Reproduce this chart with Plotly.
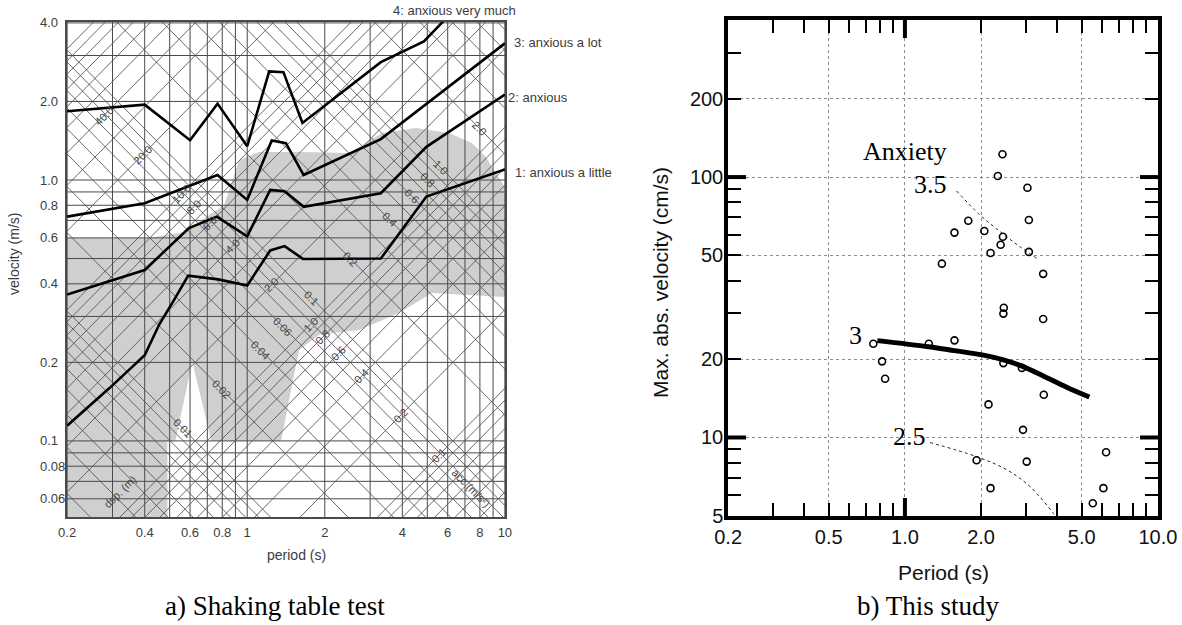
import math
import plotly.graph_objects as go

W, H = 1182, 625
OX, OY = 0, 0
def px(x): return (x - OX) / W
def py(y): return 1 - (y - OY) / H
LG = math.log10

# ---------------- Panel (a): shaking table test ----------------
# sensation curves: period (s) / velocity (m/s)
C1_T = [0.2, 0.292, 0.4, 0.456, 0.521, 0.59, 0.772, 1.0, 1.228, 1.397, 1.648, 3.30, 4.96, 10.0]
C1_V = [0.1144, 0.1594, 0.213, 0.280, 0.348, 0.430, 0.416, 0.394, 0.537, 0.558, 0.498, 0.50, 0.864, 1.098]
C2_T = [0.2, 0.4, 0.594, 0.762, 1.0, 1.228, 1.397, 1.656, 3.30, 4.96, 10.0]
C2_V = [0.364, 0.452, 0.654, 0.724, 0.608, 0.916, 0.906, 0.789, 0.89, 1.34, 2.124]
C3_T = [0.2, 0.4, 0.767, 1.0, 1.245, 1.413, 1.656, 3.30, 10.0]
C3_V = [0.724, 0.815, 1.045, 0.839, 1.418, 1.384, 1.045, 1.434, 3.34]
C4_T = [0.2, 0.4, 0.6, 0.767, 1.0, 1.217, 1.382, 1.638, 3.30, 4.85, 5.8]
C4_V = [1.834, 1.945, 1.421, 1.962, 1.348, 2.607, 2.59, 1.654, 2.83, 3.40, 4.08]
CURVE_LABELS = ["1: anxious a little", "2: anxious", "3: anxious a lot", "4: anxious very much"]

# shaded background region (period, velocity)
GRAY_T = [0.2, 0.417, 0.570, 0.814, 0.931, 1.113, 1.59, 2.485, 3.34, 4.52, 6.07, 7.45, 8.44, 10.0,
          10.0, 5.21, 3.88, 2.72, 1.90, 1.59, 1.48, 1.354, 0.725, 0.612, 0.526, 0.49, 0.49, 0.2]
GRAY_V = [0.60, 0.60, 0.632, 0.802, 1.193, 1.28, 1.28, 1.27, 1.514, 1.582, 1.514, 1.386, 1.225, 0.94,
          0.356, 0.369, 0.309, 0.266, 0.255, 0.223, 0.157, 0.10, 0.10, 0.201, 0.10, 0.10, 0.05, 0.05]

# tripartite grid
GRID_T = [0.2, 0.3, 0.4, 0.5, 0.6, 0.7, 0.8, 0.9, 1, 2, 3, 4, 5, 6, 7, 8, 9, 10]
GRID_V = [0.05, 0.06, 0.07, 0.08, 0.09, 0.1, 0.2, 0.3, 0.4, 0.5, 0.6, 0.7, 0.8, 0.9, 1, 2, 3, 4]
MULT = [1, 2, 3, 4, 5, 6, 7, 8, 9]
ACC_DECADES = [0.01, 0.1, 1, 10, 100]
DSP_DECADES = [0.001, 0.01, 0.1, 1]
ACC_LABELS = [40.0, 20.0, 10.0, 8.0, 6.0, 4.0, 2.0, 1.0, 0.8, 0.6, 0.4, 0.2, 0.1]
DSP_LABELS = [0.01, 0.02, 0.04, 0.06, 0.1, 0.2, 0.4, 0.6, 0.8, 1.0, 2.0]
ACC_LABEL_ALONG_D = 0.078   # labels of acceleration lines sit on this displacement line
DSP_LABEL_ALONG_A = 1.25    # labels of displacement lines sit on this acceleration line

XA_TICKS = [0.2, 0.4, 0.6, 0.8, 1, 2, 4, 6, 8, 10]
XA_TEXT = ["0.2", "0.4", "0.6", "0.8", "1", "2", "4", "6", "8", "10"]
YA_TICKS = [0.06, 0.08, 0.1, 0.2, 0.4, 0.6, 0.8, 1.0, 2.0, 4.0]
YA_TEXT = ["0.06", "0.08", "0.1", "0.2", "0.4", "0.6", "0.8", "1.0", "2.0", "4.0"]

# ---------------- Panel (b): this study ----------------
PTS_T = [2.43, 2.33, 3.05, 1.78, 1.57, 2.06, 2.44, 2.39, 3.09, 2.18, 3.09, 1.40, 3.52, 2.46, 2.45, 3.52,
         0.750, 1.243, 1.57, 0.812, 0.835, 2.45, 2.90, 3.54, 2.14, 2.93, 1.92, 3.03, 6.24, 2.18, 6.09, 5.53]
PTS_V = [122.4, 101, 91, 68, 61.2, 62.1, 59, 55.0, 68.4, 51.1, 51.6, 46.5, 42.5, 31.5, 29.9, 28.5,
         22.9, 22.9, 23.6, 19.6, 16.8, 19.3, 18.5, 14.6, 13.4, 10.7, 8.18, 8.08, 8.78, 6.39, 6.39, 5.59]
A30_T = [0.778, 1.243, 1.57, 2.02, 2.45, 2.90, 3.54, 4.36, 5.36]
A30_V = [23.55, 22.3, 21.55, 20.75, 19.86, 18.8, 17.2, 15.6, 14.3]
A35_T = [1.60, 1.98, 2.38, 2.85, 3.37]
A35_V = [88.4, 71.5, 61.7, 54.0, 48.3]
A25_T = [1.257, 1.92, 2.53, 3.12, 3.86, 3.95]
A25_V = [9.56, 8.44, 7.51, 6.48, 5.12, 4.95]
XB_TICKS = [0.2, 0.5, 1.0, 2.0, 5.0, 10.0]
XB_TEXT = ["0.2", "0.5", "1.0", "2.0", "5.0", "10.0"]
YB_TICKS = [5, 10, 20, 50, 100, 200]
YB_TEXT = ["5", "10", "20", "50", "100", "200"]
XB_MINOR = [0.3, 0.4, 0.5, 0.6, 0.7, 0.8, 0.9, 2, 3, 4, 5, 6, 7, 8, 9]
YB_MINOR = [6, 7, 8, 9, 20, 30, 40, 50, 60, 70, 80, 90, 200, 300]
XB_MAJOR = [1.0]
YB_MAJOR = [10, 100]

fig = go.Figure()

# ---- panel a traces ----
fig.add_trace(go.Scatter(x=GRAY_T, y=GRAY_V, fill="toself", fillcolor="#cfcfcf", mode="lines",
                         line=dict(width=0), xaxis="x", yaxis="y", hoverinfo="skip"))

gx, gy = [], []
for t in GRID_T:
    gx += [t, t, None]; gy += [0.04, 5, None]
for v in GRID_V:
    gx += [0.15, 12, None]; gy += [v, v, None]
fig.add_trace(go.Scatter(x=gx, y=gy, mode="lines", line=dict(color="#4a4a4a", width=1),
                         xaxis="x", yaxis="y", hoverinfo="skip"))

dx, dy = [], []
TWO_PI = 2 * math.pi
for dec in ACC_DECADES:
    for m in MULT:
        a = m * dec
        dx += [0.15, 12, None]; dy += [a * 0.15 / TWO_PI, a * 12 / TWO_PI, None]
for dec in DSP_DECADES:
    for m in MULT:
        d = m * dec
        dx += [0.15, 12, None]; dy += [TWO_PI * d / 0.15, TWO_PI * d / 12, None]
fig.add_trace(go.Scatter(x=dx, y=dy, mode="lines", line=dict(color="#585858", width=0.9),
                         xaxis="x", yaxis="y", hoverinfo="skip"))

for T, V in [(C1_T, C1_V), (C2_T, C2_V), (C3_T, C3_V), (C4_T, C4_V)]:
    fig.add_trace(go.Scatter(x=T, y=V, mode="lines", line=dict(color="black", width=2.6),
                             xaxis="x", yaxis="y", hoverinfo="skip"))

# ---- panel b traces ----
fig.add_trace(go.Scatter(x=A35_T, y=A35_V, mode="lines", line=dict(color="#222", width=1, dash="3px,3px", shape="spline"),
                         xaxis="x2", yaxis="y2"))
fig.add_trace(go.Scatter(x=A25_T, y=A25_V, mode="lines", line=dict(color="#222", width=1, dash="3px,3px", shape="spline"),
                         xaxis="x2", yaxis="y2"))
fig.add_trace(go.Scatter(x=A30_T, y=A30_V, mode="lines", line=dict(color="black", width=5, shape="spline"),
                         xaxis="x2", yaxis="y2"))
fig.add_trace(go.Scatter(x=PTS_T, y=PTS_V, mode="markers",
                         marker=dict(symbol="circle-open", size=7, color="black", line=dict(width=1.6, color="black")),
                         xaxis="x2", yaxis="y2"))

ann = []
SANS = "Liberation Sans"
GREY_TXT = "#3c3c3c"

def note(**kw):
    kw.setdefault("showarrow", False)
    kw.setdefault("xanchor", "center")
    kw.setdefault("yanchor", "middle")
    ann.append(kw)

# left y tick labels (left aligned)
for v, t in zip(YA_TICKS, YA_TEXT):
    note(x=px(38), xref="paper", xanchor="left", y=LG(v), yref="y",
         text=t, font=dict(family=SANS, size=13, color=GREY_TXT))
# diagonal scale labels
for a in ACC_LABELS:
    T = TWO_PI * math.sqrt(ACC_LABEL_ALONG_D / a); V = math.sqrt(a * ACC_LABEL_ALONG_D)
    note(x=LG(T), y=LG(V), xref="x", yref="y", text=f"{a:.1f}", textangle=-45,
         font=dict(family=SANS, size=11, color="#444"))
for d in DSP_LABELS:
    T = TWO_PI * math.sqrt(d / DSP_LABEL_ALONG_A); V = math.sqrt(DSP_LABEL_ALONG_A * d)
    txt = f"{d:.2f}" if d < 0.1 else f"{d:.1f}"
    note(x=LG(T), y=LG(V), xref="x", yref="y", text=txt, textangle=45,
         font=dict(family=SANS, size=11, color="#444"))
Tacc = 7.4
note(x=LG(Tacc), y=LG(TWO_PI * ACC_LABEL_ALONG_D / Tacc), xref="x", yref="y", text="acc (m/s²)",
     textangle=45, font=dict(family=SANS, size=11, color="#444"))
Tdsp = 0.32
note(x=LG(Tdsp), y=LG(DSP_LABEL_ALONG_A * Tdsp / TWO_PI), xref="x", yref="y", text="dsp. (m)",
     textangle=-45, font=dict(family=SANS, size=11, color="#444"))
# curve labels
note(x=px(454), y=py(11), xref="paper", yref="paper", text=CURVE_LABELS[3],
     font=dict(family=SANS, size=13, color=GREY_TXT))
for lab, (xx, yy) in zip(CURVE_LABELS[:3], [(513, 172), (506, 97), (512, 43)]):
    note(x=px(xx), y=py(yy), xref="paper", yref="paper", xanchor="left", text=lab,
         font=dict(family=SANS, size=13, color=GREY_TXT))
# panel a titles
note(x=px(296), y=py(555), xref="paper", yref="paper", text="period (s)",
     font=dict(family=SANS, size=14, color=GREY_TXT))
note(x=px(14), y=py(254), xref="paper", yref="paper", text="velocity (m/s)", textangle=-90,
     font=dict(family=SANS, size=14, color=GREY_TXT))
# panel b labels
SERIF = "Liberation Serif"
for txt, T, V in [("Anxiety", 1.0, 125), ("3.5", 1.26, 93.5), ("3", 0.64, 24.7), ("2.5", 1.04, 10.05)]:
    note(x=LG(T), y=LG(V), xref="x2", yref="y2", text=txt,
         font=dict(family=SERIF, size=26, color="black"))
note(x=px(943), y=py(572), xref="paper", yref="paper", text="Period (s)",
     font=dict(family=SANS, size=21, color="#111"))
note(x=px(660), y=py(283), xref="paper", yref="paper", text="Max. abs. velocity (cm/s)", textangle=-90,
     font=dict(family=SANS, size=21, color="#111"))
# captions
note(x=px(163), y=py(606), xref="paper", yref="paper", xanchor="left", text="a) Shaking table test",
     font=dict(family=SERIF, size=27, color="black"))
note(x=px(855), y=py(606), xref="paper", yref="paper", xanchor="left", text="b) This study",
     font=dict(family=SERIF, size=27, color="black"))

# thick major ticks of panel b
shapes = []
TL = 18
hb, wb = 496, 430
for t in XB_MAJOR:
    shapes.append(dict(type="line", xref="x2", yref="y2 domain", x0=t, x1=t, y0=0, y1=TL / hb,
                       line=dict(color="black", width=4)))
    shapes.append(dict(type="line", xref="x2", yref="y2 domain", x0=t, x1=t, y0=1, y1=1 - TL / hb,
                       line=dict(color="black", width=4)))
for v in YB_MAJOR:
    shapes.append(dict(type="line", xref="x2 domain", yref="y2", x0=0, x1=TL / wb, y0=v, y1=v,
                       line=dict(color="black", width=4)))
    shapes.append(dict(type="line", xref="x2 domain", yref="y2", x0=1, x1=1 - TL / wb, y0=v, y1=v,
                       line=dict(color="black", width=4)))

fig.update_layout(
    width=W, height=H, margin=dict(l=0, r=0, t=0, b=0, autoexpand=False),
    paper_bgcolor="white", plot_bgcolor="white", showlegend=False,
    annotations=ann, shapes=shapes,
    xaxis=dict(type="log", range=[LG(0.2) - 0.0005, 1.0005], domain=[px(67), px(505)], anchor="y",
               tickvals=XA_TICKS, ticktext=XA_TEXT, ticks="", showgrid=False, zeroline=False,
               showline=True, linecolor="#4a4a4a", linewidth=1.5, mirror=True, automargin=False,
               tickfont=dict(family=SANS, size=13, color=GREY_TXT), ticklabelstandoff=3),
    yaxis=dict(type="log", range=[LG(0.0511), LG(4.05)], domain=[py(517), py(21.5)], anchor="x",
               showticklabels=False, ticks="", showgrid=False, zeroline=False, automargin=False,
               showline=True, linecolor="#4a4a4a", linewidth=1.5, mirror=True),
    xaxis2=dict(type="log", range=[LG(0.2) - 0.0005, 1.0005], domain=[px(728), px(1158)], anchor="y2",
                tickvals=XB_TICKS, ticktext=XB_TEXT, ticks="", showgrid=True, gridcolor="#8c8c8c",
                griddash="dot", gridwidth=1, zeroline=False, showline=True, linecolor="black",
                linewidth=3.5, mirror="ticks", automargin=False,
                minor=dict(tickvals=XB_MINOR, ticks="inside", ticklen=13, tickwidth=2, tickcolor="black",
                           showgrid=False),
                tickfont=dict(family=SANS, size=20, color="#111"), ticklabelstandoff=0),
    yaxis2=dict(type="log", range=[LG(5) - 0.0005, LG(401)], domain=[py(516), py(20)], anchor="x2",
                tickvals=YB_TICKS, ticktext=YB_TEXT, ticks="", showgrid=True, gridcolor="#8c8c8c",
                griddash="dot", gridwidth=1, zeroline=False, showline=True, linecolor="black",
                linewidth=3.5, mirror="ticks", automargin=False,
                minor=dict(tickvals=YB_MINOR, ticks="inside", ticklen=13, tickwidth=2, tickcolor="black",
                           showgrid=False),
                tickfont=dict(family=SANS, size=20, color="#111"), ticklabelstandoff=-3),
)

# remove the page's default body margin so the figure sits at the window origin
fig.write_html("out.html", config={"displayModeBar": False},
               post_script="document.body.style.margin='0px';")
